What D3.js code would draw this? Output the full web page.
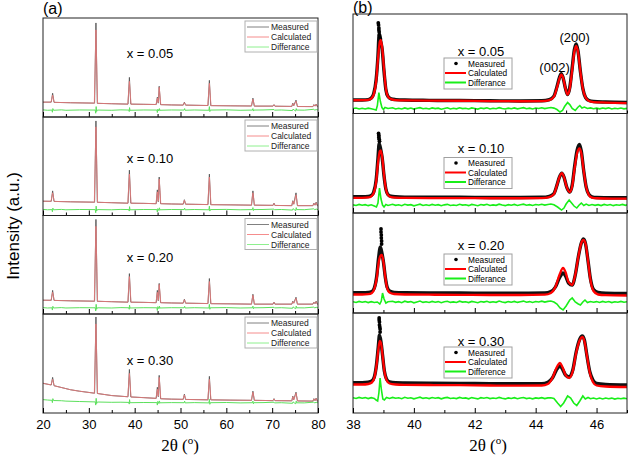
<!DOCTYPE html>
<html><head><meta charset="utf-8">
<script src="https://cdn.jsdelivr.net/npm/d3@7"></script>
<style>body{margin:0;background:#fff}svg{display:block}</style>
</head><body><svg id="c" width="629" height="456"></svg>
<script>
// ---------------- DATA ----------------
const compositions = ["x = 0.05", "x = 0.10", "x = 0.20", "x = 0.30"];
const legendNamesA = ["Measured", "Calculated", "Differance"];
const legendNamesB = ["Measured", "Calculated", "Difference"];
const leftTicksMajor = [20, 30, 40, 50, 60, 70, 80];
const leftTicksMinor = [25, 35, 45, 55, 65, 75];
const rightTicksMajor = [38, 40, 42, 44, 46];
const rightTicksMinor = [39, 41, 43, 45, 47];
const peakLabels = [["(002)", 44.62, 42], ["(200)", 45.28, 72]];

// Left panels (2θ 20–80), intensity in a.u. (0–100 per panel)
const leftMeas05 = [[20,15],[21.8,15],[22.1,24],[22.4,14.8],[26,14.4],[31.25,14],[31.55,95],[31.85,13.8],[35,13.4],[38.55,13],[38.85,40],[39.15,13],[42,12.8],[44.7,12.6],[44.95,20],[45.15,14],[45.35,31],[45.65,12.5],[48,12.2],[50.6,12],[50.85,15],[51.1,12],[56,11.6],[56.3,37],[56.6,11.5],[61,11.3],[65.5,11.1],[65.8,19],[66.1,11],[70.2,11],[70.4,12.5],[70.6,10.9],[74.3,10.7],[74.5,14],[74.7,11.5],[75.2,17],[75.5,10.6],[78.9,10.5],[79.1,12.5],[79.35,11],[79.6,13],[79.85,10.5],[80,10.5]];
const leftCalc05 = [[20,15],[21.75,15],[22.1,22],[22.45,14.8],[26,14.4],[31.2,14],[31.55,88],[31.9,13.8],[35,13.4],[38.5,13],[38.85,36],[39.2,13],[42,12.8],[44.65,12.6],[44.95,19],[45.15,14.5],[45.35,30],[45.7,12.5],[48,12.2],[50.55,12],[50.85,14.5],[51.15,12],[55.95,11.6],[56.3,34],[56.65,11.5],[61,11.3],[65.45,11.1],[65.8,18],[66.15,11],[70.15,11],[70.4,12.3],[70.65,10.9],[74.25,10.7],[74.5,13.5],[74.75,11.5],[75.2,16],[75.55,10.6],[78.85,10.5],[79.1,12.3],[79.35,11],[79.6,12.8],[79.9,10.5],[80,10.5]];
const leftDiff05 = [[20,7.2],[21,6.8],[21.95,7],[22.05,4.8],[22.15,8.5],[22.3,6.8],[24,7.2],[25,6.8],[28,7.1],[31.4,7],[31.5,3.8],[31.6,10.5],[31.7,5.5],[31.85,7],[35,6.8],[37,7.2],[38.75,7],[38.82,5.5],[38.88,9.5],[38.98,6.8],[42,7.1],[44.85,7],[44.95,4.5],[45.05,8],[45.3,6],[45.4,8.5],[45.5,6.8],[48,7.1],[50.8,7],[50.9,8.5],[51,6.8],[53,7.1],[56.2,6.8],[56.3,10.5],[56.4,5.5],[56.5,7],[60,7.2],[63,6.8],[65.7,7],[65.8,8.5],[65.9,6],[66,7],[68,7.1],[70.4,7.5],[70.5,6.9],[72,7.1],[74.45,6.5],[74.55,8],[74.8,7],[75.15,6],[75.25,8.5],[75.35,7],[77,6.9],[79.1,7.8],[79.3,6.9],[79.6,7.5],[80,7]];

const leftMeas10 = [[20,14.5],[21.8,14.4],[22.1,25],[22.4,14.3],[26,13.9],[31.25,13.5],[31.55,96],[31.85,13.4],[35,13],[38.55,12.5],[38.85,46],[39.15,12.5],[42,12.3],[44.7,12],[44.95,26],[45.15,14],[45.35,39],[45.65,12],[48,11.7],[50.6,11.5],[50.85,16],[51.1,11.5],[56,11.1],[56.3,42],[56.6,11],[61,10.8],[65.5,10.5],[65.8,25],[66.1,10.5],[70.2,10.3],[70.4,12.5],[70.6,10.2],[74.3,10],[74.5,15],[74.7,11.5],[75.2,23],[75.5,10],[78.9,10],[79.1,12.5],[79.35,10.5],[79.6,13.5],[79.85,10],[80,10]];
const leftCalc10 = [[20,14.5],[21.75,14.4],[22.1,23],[22.45,14.3],[26,13.9],[31.2,13.5],[31.55,90],[31.9,13.4],[35,13],[38.5,12.5],[38.85,42],[39.2,12.5],[42,12.3],[44.65,12],[44.95,24],[45.15,14.5],[45.35,37],[45.7,12],[48,11.7],[50.55,11.5],[50.85,15.5],[51.15,11.5],[55.95,11.1],[56.3,39],[56.65,11],[61,10.8],[65.45,10.5],[65.8,23],[66.15,10.5],[70.15,10.3],[70.4,12.2],[70.65,10.2],[74.25,10],[74.5,14.5],[74.75,11.5],[75.2,21],[75.55,10],[78.85,10],[79.1,12.2],[79.35,10.5],[79.6,13],[79.9,10],[80,10]];
const leftDiff10 = [[20,6.2],[21,5.8],[21.95,6],[22.05,3.8],[22.15,7.5],[22.3,5.8],[24,6.2],[25,5.8],[28,6.1],[31.4,6],[31.5,2.8],[31.6,9.5],[31.7,4.5],[31.85,6],[35,5.8],[37,6.2],[38.75,6],[38.82,4.5],[38.88,9],[38.98,5.8],[42,6.1],[44.85,6],[44.95,3.5],[45.05,7],[45.3,5],[45.4,7.8],[45.5,5.8],[48,6.1],[50.8,6],[50.9,7.5],[51,5.8],[53,6.1],[56.2,5.8],[56.3,9.5],[56.4,4.5],[56.5,6],[60,6.2],[63,5.8],[65.7,6],[65.8,8],[65.9,5],[66,6],[68,6.1],[70.4,6.5],[70.5,5.9],[72,6.1],[74.45,5.5],[74.55,7],[74.8,6],[75.15,5],[75.25,8],[75.35,6],[77,5.9],[79.1,6.8],[79.3,5.9],[79.6,6.5],[80,6]];

const leftMeas20 = [[20,14],[21.8,13.9],[22.1,24],[22.4,13.8],[26,13.4],[31.25,13],[31.55,96],[31.85,12.9],[35,12.5],[38.55,12],[38.85,41],[39.15,12],[42,11.8],[44.7,11.5],[44.95,24],[45.15,13.5],[45.35,31],[45.65,11.5],[48,11.2],[50.6,11],[50.85,15],[51.1,11],[56,10.6],[56.3,36],[56.6,10.5],[61,10.3],[65.5,10],[65.8,20],[66.1,10],[70.2,10],[70.4,12],[70.6,10],[74.3,10],[74.5,13],[74.7,11],[75.2,17],[75.5,10],[78.9,10],[79.1,12],[79.35,10.5],[79.6,13],[79.85,10],[80,10]];
const leftCalc20 = [[20,14],[21.75,13.9],[22.1,22],[22.45,13.8],[26,13.4],[31.2,13],[31.55,89],[31.9,12.9],[35,12.5],[38.5,12],[38.85,38],[39.2,12],[42,11.8],[44.65,11.5],[44.95,22],[45.15,14],[45.35,30],[45.7,11.5],[48,11.2],[50.55,11],[50.85,14.5],[51.15,11],[55.95,10.6],[56.3,33],[56.65,10.5],[61,10.3],[65.45,10],[65.8,19],[66.15,10],[70.15,10],[70.4,11.8],[70.65,10],[74.25,10],[74.5,12.5],[74.75,11],[75.2,16],[75.55,10],[78.85,10],[79.1,11.8],[79.35,10.5],[79.6,12.5],[79.9,10],[80,10]];
const leftDiff20 = [[20,6.5],[21,6.1],[21.95,6.3],[22.05,4],[22.15,7.8],[22.3,6.1],[24,6.5],[25,6.1],[28,6.4],[31.4,6.3],[31.5,3],[31.6,9.8],[31.7,4.8],[31.85,6.3],[35,6.1],[37,6.5],[38.75,6.3],[38.82,4.8],[38.88,9],[38.98,6.1],[42,6.4],[44.85,6.3],[44.95,3.5],[45.05,7.5],[45.3,5.3],[45.4,8],[45.5,6.1],[48,6.4],[50.8,6.3],[50.9,7.8],[51,6.1],[53,6.4],[56.2,6.1],[56.3,9.8],[56.4,4.8],[56.5,6.3],[60,6.5],[63,6.1],[65.7,6.3],[65.8,8],[65.9,5.3],[66,6.3],[68,6.4],[70.4,6.8],[70.5,6.2],[72,6.4],[74.45,5.8],[74.55,7.3],[74.8,6.3],[75.15,5.3],[75.25,8],[75.35,6.3],[77,6.2],[79.1,7],[79.3,6.2],[79.6,6.8],[80,6.3]];

const leftMeas30 = [[20,30],[21.8,28.3],[22.1,36],[22.4,27.6],[26,23.5],[28,22],[31.25,20],[31.55,97],[31.85,19.7],[35,17.6],[38.55,16.4],[38.85,44],[39.15,16.2],[42,15.5],[44.7,14.8],[44.95,26],[45.15,16.5],[45.35,38],[45.65,14.4],[48,14],[50.6,13.8],[50.85,19],[51.1,13.7],[56,13.3],[56.3,37],[56.6,13.3],[61,13],[65.5,12.8],[65.8,22],[66.1,12.8],[70.2,12.5],[70.4,14.5],[70.6,12.5],[74.3,12.3],[74.5,17],[74.7,13.5],[75.2,21],[75.5,12.2],[78.9,12],[79.1,14.5],[79.35,12.5],[79.6,15],[79.85,12],[80,12]];
const leftCalc30 = [[20,30],[21.75,28.4],[22.1,34],[22.45,27.5],[26,23.5],[28,22],[31.2,20],[31.55,90],[31.9,19.7],[35,17.6],[38.5,16.4],[38.85,40],[39.2,16.2],[42,15.5],[44.65,14.8],[44.95,24],[45.15,17],[45.35,36],[45.7,14.4],[48,14],[50.55,13.8],[50.85,18.3],[51.15,13.7],[55.95,13.3],[56.3,34],[56.65,13.3],[61,13],[65.45,12.8],[65.8,21],[66.15,12.8],[70.15,12.5],[70.4,14.2],[70.65,12.5],[74.25,12.3],[74.5,16.5],[74.75,13.5],[75.2,20],[75.55,12.2],[78.85,12],[79.1,14.2],[79.35,12.5],[79.6,14.8],[79.9,12],[80,12]];
const leftDiff30 = [[20,13.5],[21,13.1],[21.95,12.8],[22.05,10.5],[22.15,14.5],[22.3,12.6],[24,12.4],[25,12],[28,11.6],[31.4,11.2],[31.5,8],[31.6,14.8],[31.7,9.5],[31.85,11.1],[35,10.8],[37,10.9],[38.75,10.7],[38.82,9],[38.88,13.5],[38.98,10.4],[42,10.6],[44.85,10.5],[44.95,8],[45.05,11.8],[45.3,9.5],[45.4,12.2],[45.5,10.3],[48,10.5],[50.8,10.4],[50.9,12],[51,10.2],[53,10.5],[56.2,10.2],[56.3,13.8],[56.4,8.8],[56.5,10.4],[60,10.6],[63,10.2],[65.7,10.4],[65.8,12],[65.9,9.3],[66,10.4],[68,10.5],[70.4,10.9],[70.5,10.2],[72,10.4],[74.45,9.8],[74.55,11.3],[74.8,10.3],[75.15,9.3],[75.25,12],[75.35,10.3],[77,10.2],[79.1,11],[79.3,10.2],[79.6,10.8],[80,10.3]];

// Right panels (2θ 38–47)
const rightMeas05 = [[38.0,13.5],[38.3,13.6],[38.5,14],[38.6,15.5],[38.68,20],[38.76,34],[38.82,58],[38.86,80],[38.9,74],[38.96,64],[39.02,42],[39.08,24],[39.15,17],[39.25,14.8],[39.4,14],[39.7,13.5],[40.5,13.2],[41.5,13],[42.5,12.8],[43.5,12.6],[44.2,12.8],[44.45,14],[44.6,17.5],[44.7,27],[44.78,36],[44.84,40],[44.9,36],[44.98,25],[45.05,19],[45.12,26],[45.2,46],[45.27,64],[45.33,70],[45.39,63],[45.47,42],[45.55,25],[45.64,16],[45.75,13],[45.9,12],[46.3,11.5],[47,11]];
const rightCalc05 = [[38.0,13.3],[38.3,13.4],[38.5,13.8],[38.6,15],[38.68,19],[38.76,32],[38.82,55],[38.88,72],[38.91,74],[38.96,66],[39.02,44],[39.08,25],[39.15,17],[39.25,14.5],[39.4,13.5],[39.7,13.2],[40.5,13],[41.5,12.8],[42.5,12.5],[43.5,12.3],[44.2,12.5],[44.45,13.5],[44.6,17],[44.7,26],[44.78,35],[44.84,39],[44.9,36],[44.98,25],[45.05,19],[45.12,25],[45.2,44],[45.27,62],[45.33,68],[45.39,62],[45.47,42],[45.55,25],[45.64,16],[45.75,12.5],[45.9,11.5],[46.3,11],[47,10.5]];
const rightTopDots05 = [[38.83,91],[38.84,89],[38.85,86],[38.85,84],[38.86,82],[38.87,79],[38.88,77],[38.9,75]];
const rightDiff05 = [[38.0,5],[38.1,5.5],[38.2,4.5],[38.3,5.2],[38.4,4.6],[38.5,5.4],[38.6,4.8],[38.7,4],[38.76,3.5],[38.8,8],[38.85,21],[38.9,12],[38.95,6],[39.0,4],[39.05,6],[39.15,5],[39.3,5.8],[39.4,4.6],[39.5,5.3],[39.6,4.5],[39.7,5.6],[39.8,4.7],[39.9,5.5],[40.0,4.4],[40.1,5.2],[40.2,5.9],[40.3,4.8],[40.4,5.3],[40.5,4.5],[40.6,5.6],[40.7,4.9],[40.8,5.4],[40.9,4.3],[41.0,5.1],[41.1,5.7],[41.2,4.6],[41.3,5.2],[41.4,4.7],[41.5,5.8],[41.6,4.9],[41.7,5.3],[41.8,4.5],[41.9,5.6],[42.0,5],[42.1,4.4],[42.2,5.5],[42.3,4.9],[42.4,5.7],[42.5,4.6],[42.6,5.2],[42.7,4.8],[42.8,5.9],[42.9,5],[43.0,4.5],[43.1,5.4],[43.2,4.8],[43.3,5.6],[43.4,4.7],[43.5,5.3],[43.6,5.9],[43.7,4.8],[43.8,5.4],[43.9,4.6],[44.0,5.5],[44.1,5],[44.2,5.8],[44.3,4.9],[44.4,5.6],[44.5,6],[44.6,5.4],[44.7,4],[44.8,1.5],[44.88,3],[44.95,7],[45.05,11],[45.12,9],[45.2,5],[45.3,3],[45.38,6],[45.45,8],[45.52,5.5],[45.6,6.5],[45.7,5],[45.8,5.6],[45.9,4.8],[46.0,5.4],[46.1,4.7],[46.2,5.5],[46.3,4.9],[46.4,5.7],[46.5,4.6],[46.6,5.2],[46.7,4.8],[46.8,5.5],[46.9,4.7],[47.0,5.2]];

const rightMeas10 = [[38.0,16.3],[38.3,16.3],[38.5,16.6],[38.6,17.5],[38.68,21],[38.76,33],[38.82,55],[38.86,70],[38.91,64],[38.96,55],[39.02,37],[39.08,24],[39.15,18.5],[39.25,16.8],[39.4,16.3],[39.7,16],[40.5,15.8],[41.5,15.8],[42.5,15.6],[43.5,15.6],[44.2,15.8],[44.45,16.8],[44.6,19.5],[44.7,28],[44.78,36],[44.86,40],[44.93,36],[45.02,26],[45.12,21],[45.2,28],[45.28,47],[45.36,63],[45.44,69],[45.5,62],[45.58,42],[45.66,26],[45.75,18.5],[45.85,16.3],[46.0,15.6],[46.5,15.3],[47,15.3]];
const rightCalc10 = [[38.0,15.3],[38.3,15.3],[38.5,15.6],[38.6,16.8],[38.68,20],[38.76,31],[38.82,50],[38.88,62],[38.91,63],[38.96,56],[39.02,38],[39.08,24],[39.15,18],[39.25,16],[39.4,15.5],[39.7,15.2],[40.5,15],[41.5,15],[42.5,14.8],[43.5,14.8],[44.2,15],[44.45,16],[44.6,19],[44.7,28],[44.78,36],[44.86,40],[44.93,36],[45.02,26],[45.12,21],[45.2,27],[45.28,45],[45.36,60],[45.44,65],[45.5,60],[45.58,42],[45.66,26],[45.75,18],[45.85,15.5],[46.0,14.8],[46.5,14.5],[47,14.5]];
const rightTopDots10 = [[38.84,80],[38.85,78],[38.85,76],[38.86,74],[38.87,72]];
const rightDiff10 = [[38.0,8.2],[38.1,7.5],[38.2,8.6],[38.3,7.8],[38.4,8.4],[38.5,7.4],[38.6,8.3],[38.7,7],[38.77,6],[38.82,10],[38.87,25],[38.92,14],[38.97,8],[39.02,6],[39.08,8.5],[39.15,7.6],[39.3,8.7],[39.4,7.7],[39.5,8.3],[39.6,7.3],[39.7,8.8],[39.8,7.9],[39.9,8.4],[40.0,7.2],[40.1,8.1],[40.2,8.9],[40.3,7.6],[40.4,8.3],[40.5,7.5],[40.6,8.6],[40.7,7.8],[40.8,8.4],[40.9,7.3],[41.0,8.2],[41.1,8.7],[41.2,7.6],[41.3,8.1],[41.4,7.5],[41.5,8.8],[41.6,7.9],[41.7,8.3],[41.8,7.4],[41.9,8.6],[42.0,8],[42.1,7.3],[42.2,8.5],[42.3,7.9],[42.4,8.7],[42.5,7.6],[42.6,8.2],[42.7,7.7],[42.8,8.9],[42.9,8],[43.0,7.4],[43.1,8.4],[43.2,7.8],[43.3,8.6],[43.4,7.6],[43.5,8.3],[43.6,8.9],[43.7,7.8],[43.8,8.4],[43.9,7.6],[44.0,8.5],[44.1,8],[44.2,8.8],[44.3,7.9],[44.4,8.6],[44.5,9],[44.6,8.2],[44.72,6],[44.85,3],[44.93,5],[45.0,9],[45.1,13],[45.18,10],[45.26,7],[45.35,5],[45.43,8],[45.5,10],[45.58,7.5],[45.66,9],[45.75,7.6],[45.85,8.5],[45.95,7.7],[46.05,8.4],[46.15,7.5],[46.25,8.6],[46.35,7.8],[46.45,8.5],[46.55,7.4],[46.65,8.3],[46.75,7.8],[46.85,8.6],[46.95,7.7],[47.0,8.2]];

const rightMeas20 = [[38.0,20.3],[38.3,20.3],[38.5,20.6],[38.62,21.5],[38.7,25],[38.78,37],[38.84,55],[38.9,66],[38.95,60],[39.0,51],[39.06,36],[39.12,26],[39.2,22],[39.35,20.6],[39.7,20.2],[40.5,20],[41.5,20],[42.5,19.8],[43.5,19.8],[44.3,20],[44.5,21.5],[44.65,26],[44.78,35],[44.9,40],[44.98,37],[45.08,30],[45.2,28],[45.3,38],[45.4,56],[45.5,70],[45.57,74],[45.64,69],[45.72,52],[45.8,34],[45.9,23.5],[46.05,20.5],[46.3,19.8],[47,19.5]];
const rightCalc20 = [[38.0,18.5],[38.3,18.5],[38.5,18.8],[38.62,20],[38.7,24],[38.78,35],[38.84,50],[38.9,57],[38.95,58],[39.0,51],[39.06,36],[39.12,25],[39.2,20.5],[39.35,19],[39.7,18.5],[40.5,18.3],[41.5,18.2],[42.5,18],[43.5,18],[44.3,18.3],[44.5,20],[44.65,26],[44.78,38],[44.9,45],[44.98,41],[45.08,31],[45.2,28],[45.3,38],[45.4,56],[45.5,70],[45.57,73],[45.64,69],[45.72,52],[45.8,33],[45.9,22],[46.05,18.5],[46.3,17.8],[47,17.5]];
const rightTopDots20 = [[38.92,84],[38.92,81],[38.93,78],[38.93,75],[38.94,72],[38.94,69]];
const rightDiff20 = [[38.0,11.2],[38.1,10.5],[38.2,11.6],[38.3,10.8],[38.4,11.4],[38.5,10.4],[38.6,11.3],[38.7,10.5],[38.8,11],[38.88,9],[38.93,12],[38.97,20],[39.02,14],[39.08,10],[39.15,11.3],[39.3,11.7],[39.4,10.7],[39.5,11.3],[39.6,10.3],[39.7,11.8],[39.8,10.9],[39.9,11.4],[40.0,10.2],[40.1,11.1],[40.2,11.9],[40.3,10.6],[40.4,11.3],[40.5,10.5],[40.6,11.6],[40.7,10.8],[40.8,11.4],[40.9,10.3],[41.0,11.2],[41.1,11.7],[41.2,10.6],[41.3,11.1],[41.4,10.5],[41.5,11.8],[41.6,10.9],[41.7,11.3],[41.8,10.4],[41.9,11.6],[42.0,11],[42.1,10.3],[42.2,11.5],[42.3,10.9],[42.4,11.7],[42.5,10.6],[42.6,11.2],[42.7,10.7],[42.8,11.9],[42.9,11],[43.0,10.4],[43.1,11.4],[43.2,10.8],[43.3,11.6],[43.4,10.6],[43.5,11.3],[43.6,11.9],[43.7,10.8],[43.8,11.4],[43.9,10.6],[44.0,11.5],[44.1,11],[44.2,11.8],[44.3,10.9],[44.4,11.6],[44.5,12],[44.6,11],[44.7,9],[44.8,5],[44.9,3],[45.0,7],[45.12,13],[45.2,15],[45.3,11],[45.4,9],[45.47,8],[45.55,11],[45.62,13],[45.7,10.5],[45.8,11.5],[45.9,10.7],[46.0,11.4],[46.1,10.5],[46.2,11.6],[46.3,10.8],[46.4,11.5],[46.5,10.4],[46.6,11.3],[46.7,10.8],[46.8,11.6],[46.9,10.7],[47.0,11.2]];

const rightMeas30 = [[38.0,30.3],[38.3,30.3],[38.5,30.8],[38.62,32],[38.7,36],[38.77,48],[38.83,66],[38.87,78],[38.92,71],[38.97,58],[39.03,42],[39.1,34],[39.2,31],[39.4,30.2],[39.7,30],[40.5,29.8],[41.5,29.6],[42.5,29.4],[43.5,29.2],[44.2,29.4],[44.4,30.8],[44.55,35],[44.68,43],[44.8,47],[44.88,44],[44.98,38],[45.1,36],[45.22,43],[45.33,61],[45.45,74],[45.53,77],[45.6,73],[45.68,58],[45.78,41],[45.88,33],[46.0,29.5],[46.3,28.5],[47,28]];
const rightCalc30 = [[38.0,28.5],[38.3,28.5],[38.5,29],[38.62,30.5],[38.7,35],[38.77,47],[38.83,63],[38.88,72],[38.92,70],[38.97,58],[39.03,42],[39.1,33],[39.2,29.5],[39.4,28.5],[39.7,28.2],[40.5,28],[41.5,27.8],[42.5,27.5],[43.5,27.3],[44.2,27.5],[44.4,29],[44.55,35],[44.68,45],[44.8,50],[44.88,46],[44.98,38],[45.1,35],[45.22,42],[45.33,60],[45.45,73],[45.53,76],[45.6,72],[45.68,58],[45.78,40],[45.88,31],[46.0,27.5],[46.3,26.5],[47,26]];
const rightTopDots30 = [[38.86,95],[38.86,93],[38.87,91],[38.87,88],[38.88,86],[38.89,84],[38.89,81]];
const rightDiff30 = [[38.0,15.2],[38.1,14.5],[38.2,15.6],[38.3,14.8],[38.4,15.4],[38.5,14.4],[38.6,15.3],[38.7,14.5],[38.76,13],[38.81,12],[38.85,20],[38.89,35],[38.93,24],[38.98,14],[39.03,13],[39.1,15.5],[39.2,14.6],[39.3,15.6],[39.4,14.7],[39.5,15.2],[39.6,14.3],[39.7,15.7],[39.8,14.8],[39.9,15.3],[40.0,14.2],[40.1,15.1],[40.2,15.8],[40.3,14.6],[40.4,15.2],[40.5,14.4],[40.6,15.5],[40.7,14.7],[40.8,15.3],[40.9,14.2],[41.0,15.1],[41.1,15.6],[41.2,14.5],[41.3,15],[41.4,14.4],[41.5,15.6],[41.6,14.7],[41.7,15.1],[41.8,14.2],[41.9,15.4],[42.0,14.8],[42.1,14.1],[42.2,15.3],[42.3,14.7],[42.4,15.5],[42.5,14.4],[42.6,15],[42.7,14.5],[42.8,15.6],[42.9,14.7],[43.0,14.1],[43.1,15.1],[43.2,14.5],[43.3,15.3],[43.4,14.3],[43.5,15],[43.6,15.5],[43.7,14.4],[43.8,15],[43.9,14.2],[44.0,15.1],[44.1,14.6],[44.2,15.3],[44.3,14.4],[44.4,15.1],[44.5,15.3],[44.6,14.5],[44.72,10],[44.82,6.5],[44.92,10],[45.05,17],[45.15,15],[45.25,10],[45.35,7.5],[45.45,12],[45.55,17],[45.63,14],[45.72,15.5],[45.8,14.3],[45.9,15],[46.0,14.1],[46.1,14.9],[46.2,14],[46.3,15],[46.4,14.2],[46.5,14.9],[46.6,13.9],[46.7,14.8],[46.8,14.2],[46.9,14.9],[47.0,14.3]];

// ---------------- DRAWING ----------------
const svg = d3.select("#c");
const defs = svg.append("defs");
const SANS = "'Liberation Sans', Arial, sans-serif";
const SERIF = "'Liberation Serif', 'Times New Roman', serif";

const leftPanels = [
  {meas: leftMeas05, calc: leftCalc05, diff: leftDiff05, names: legendNamesA, labelDy: 35},
  {meas: leftMeas10, calc: leftCalc10, diff: leftDiff10, names: legendNamesA, labelDy: 41},
  {meas: leftMeas20, calc: leftCalc20, diff: leftDiff20, names: legendNamesA, labelDy: 42},
  {meas: leftMeas30, calc: leftCalc30, diff: leftDiff30, names: legendNamesB, labelDy: 46}
];
const rightPanels = [
  {meas: rightMeas05, calc: rightCalc05, dots: rightTopDots05, diff: rightDiff05, names: legendNamesA, labelDy: 37, legDy: 44},
  {meas: rightMeas10, calc: rightCalc10, dots: rightTopDots10, diff: rightDiff10, names: legendNamesA, labelDy: 35, legDy: 44},
  {meas: rightMeas20, calc: rightCalc20, dots: rightTopDots20, diff: rightDiff20, names: legendNamesA, labelDy: 32, legDy: 41},
  {meas: rightMeas30, calc: rightCalc30, dots: rightTopDots30, diff: rightDiff30, names: legendNamesB, labelDy: 28, legDy: 34}
];

const xL = d3.scaleLinear().domain([20, 80]).range([43, 318]);
const xR = d3.scaleLinear().domain([38, 47]).range([353, 627]);
const leftTops = [18, 117, 215.5, 314], leftH = [99, 98.5, 98.5, 99];
const rightTops = [14, 113.5, 213, 313], rightH = [99.5, 99.5, 100, 100];

function axes(g, x, bottom, major, minor, labels) {
  const a = g.append("g").attr("transform", `translate(0,${bottom})`)
    .call(d3.axisBottom(x).tickValues(major).tickSize(-5).tickPadding(7)
      .tickFormat(labels ? d3.format("d") : () => ""));
  a.select(".domain").remove();
  a.attr("font-family", SANS).attr("font-size", 13);
  a.selectAll("text").attr("fill", "#000");
  const b = g.append("g").attr("transform", `translate(0,${bottom})`)
    .call(d3.axisBottom(x).tickValues(minor).tickSize(-3).tickFormat(() => ""));
  b.select(".domain").remove();
}

function frame(g, x0, x1, top, h) {
  g.append("rect").attr("x", x0).attr("y", top).attr("width", x1 - x0).attr("height", h)
    .attr("fill", "none").attr("stroke", "#222").attr("stroke-width", 1);
}

// Left column
leftPanels.forEach((p, i) => {
  const top = leftTops[i], h = leftH[i], bottom = top + h;
  const y = d3.scaleLinear().domain([0, 100]).range([bottom, top]);
  const id = "clipL" + i;
  defs.append("clipPath").attr("id", id).append("rect")
    .attr("x", 43).attr("y", top).attr("width", 275).attr("height", h);
  const g = svg.append("g");
  const gc = g.append("g").attr("clip-path", `url(#${id})`);
  const line = d3.line().x(d => xL(d[0])).y(d => y(d[1]));
  gc.append("path").attr("d", line(p.meas)).attr("fill", "none").attr("stroke", "#555").attr("stroke-width", 0.9);
  gc.append("path").attr("d", line(p.calc)).attr("fill", "none").attr("stroke", "#f07a7a").attr("stroke-width", 1).attr("opacity", 0.8);
  gc.append("path").attr("d", line(p.diff)).attr("fill", "none").attr("stroke", "#5de05d").attr("stroke-width", 1);
  frame(g, 43, 318, top, h);
  axes(g, xL, bottom, leftTicksMajor, leftTicksMinor, i === 3);
  g.append("text").attr("x", 150).attr("y", top + p.labelDy + 4.5).attr("text-anchor", "middle")
    .attr("font-family", SANS).attr("font-size", 13).text(compositions[i]);
  const lx = 245, ly = top + 3;
  g.append("rect").attr("x", lx).attr("y", ly).attr("width", 72).attr("height", 31)
    .attr("fill", "#fff").attr("stroke", "#b0b0b0").attr("stroke-width", 1);
  const cols = ["#808080", "#f58c8c", "#8ef08e"];
  p.names.forEach((n, k) => {
    const yy = ly + 6 + k * 10;
    g.append("line").attr("x1", lx + 2).attr("x2", lx + 24).attr("y1", yy).attr("y2", yy)
      .attr("stroke", cols[k]).attr("stroke-width", 1);
    g.append("text").attr("x", lx + 26).attr("y", yy + 3).attr("font-family", SANS)
      .attr("font-size", 8.5).attr("fill", "#222").text(n);
  });
});

// Right column
rightPanels.forEach((p, i) => {
  const top = rightTops[i], h = rightH[i], bottom = top + h;
  const y = d3.scaleLinear().domain([0, 100]).range([bottom, top]);
  const id = "clipR" + i;
  defs.append("clipPath").attr("id", id).append("rect")
    .attr("x", 353).attr("y", top).attr("width", 274).attr("height", h);
  const g = svg.append("g");
  const gc = g.append("g").attr("clip-path", `url(#${id})`);
  const smooth = d3.line().x(d => xR(d[0])).y(d => y(d[1])).curve(d3.curveMonotoneX);
  const lin = d3.line().x(d => xR(d[0])).y(d => y(d[1]));
  gc.append("path").attr("d", smooth(p.meas)).attr("fill", "none").attr("stroke", "#111").attr("stroke-width", 3.4)
    .attr("stroke-linejoin", "round");
  gc.selectAll("circle.top").data(p.dots).join("circle").attr("class", "top")
    .attr("cx", d => xR(d[0])).attr("cy", d => y(d[1])).attr("r", 1.9).attr("fill", "#000");
  gc.append("path").attr("d", smooth(p.calc)).attr("fill", "none").attr("stroke", "#ff0000").attr("stroke-width", 2.3);
  gc.append("path").attr("d", lin(p.diff)).attr("fill", "none").attr("stroke", "#19ee19").attr("stroke-width", 1.6);
  frame(g, 353, 627, top, h);
  axes(g, xR, bottom, rightTicksMajor, rightTicksMinor, i === 3);
  g.append("text").attr("x", 481).attr("y", top + p.labelDy + 4.5).attr("text-anchor", "middle")
    .attr("font-family", SANS).attr("font-size", 13).text(compositions[i]);
  if (i === 0) {
    peakLabels.forEach(pl => {
      g.append("text").attr("x", xR(pl[1])).attr("y", y(pl[2])).attr("text-anchor", "middle")
        .attr("font-family", SANS).attr("font-size", 13).text(pl[0]);
    });
  }
  const lx = 444, ly = top + p.legDy;
  g.append("rect").attr("x", lx).attr("y", ly).attr("width", 68).attr("height", 31)
    .attr("fill", "#fff").attr("stroke", "#a0a0a0").attr("stroke-width", 1);
  p.names.forEach((n, k) => {
    const yy = ly + 5.5 + k * 9.5;
    if (k === 0) {
      g.append("circle").attr("cx", lx + 12).attr("cy", yy).attr("r", 1.8).attr("fill", "#000");
    } else {
      g.append("line").attr("x1", lx + 1).attr("x2", lx + 22).attr("y1", yy).attr("y2", yy)
        .attr("stroke", k === 1 ? "#ff0000" : "#19ee19").attr("stroke-width", 2);
    }
    g.append("text").attr("x", lx + 24).attr("y", yy + 3).attr("font-family", SANS)
      .attr("font-size", 8.3).attr("fill", "#000").text(n);
  });
});

// Titles
svg.append("text").attr("x", 43).attr("y", 14).attr("font-family", SANS).attr("font-size", 16).text("(a)");
svg.append("text").attr("x", 353).attr("y", 12.5).attr("font-family", SANS).attr("font-size", 16).text("(b)");
svg.append("text").attr("transform", "translate(19,226) rotate(-90)").attr("text-anchor", "middle")
  .attr("font-family", SANS).attr("font-size", 17).text("Intensity (a.u.)");
[180, 488].forEach(cx => {
  const t = svg.append("text").attr("x", cx).attr("y", 451).attr("text-anchor", "middle")
    .attr("font-family", SERIF).attr("font-size", 17);
  t.append("tspan").text("2θ (");
  t.append("tspan").attr("font-size", 11).attr("dy", -7).text("o");
  t.append("tspan").attr("dy", 7).text(")");
});
</script></body></html>
